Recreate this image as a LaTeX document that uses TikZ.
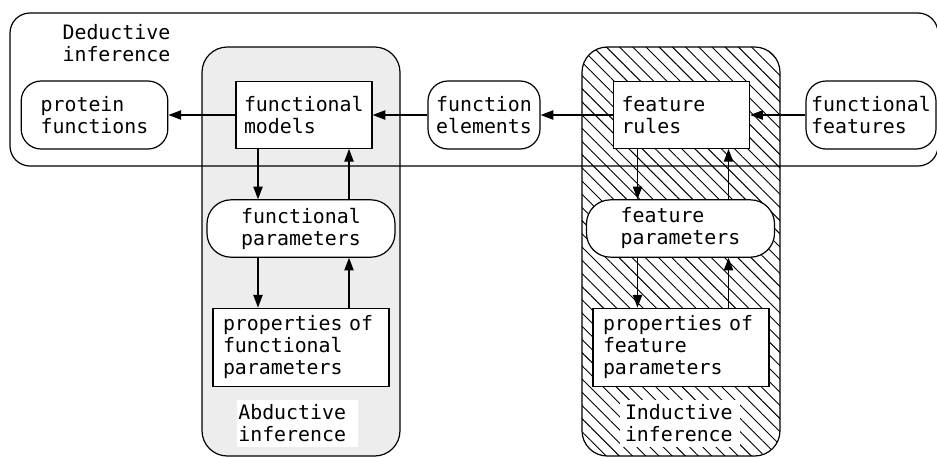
\documentclass[tikz,border=0pt]{standalone}
\usepackage{fontspec}
\newfontfamily\boxfont{DejaVu Sans Mono}
\usetikzlibrary{arrows.meta, patterns.meta}

\tikzset{
  txt/.style={font=\boxfont\fontsize{14.9pt}{16.5pt}\selectfont, align=left},
  rectbox/.style={txt, draw, fill=white, inner xsep=6pt, inner ysep=0pt},
  roundbox/.style={txt, draw, fill=white, rounded corners=15pt, inner sep=0pt},
  arr/.style={-{Triangle[length=9.5pt,width=7pt]}},
}

\begin{document}
\begin{tikzpicture}[x=0.75pt, y=-0.75pt, line width=0.9pt]
  \useasboundingbox (0,0) rectangle (937,457);
  % abductive and inductive regions
  \draw[fill=black!7, rounded corners=19pt] (202,47) rectangle (400,456);
  \draw[pattern={Lines[angle=-45,distance=7pt,line width=0.7pt]}, rounded corners=19pt]
    (582,47) rectangle (780,456);
  % deductive region, drawn over the other two
  \draw[rounded corners=15pt] (10,13) rectangle (938,166);
  \node[txt, anchor=north west, inner sep=0pt] (ded) at (62,24) {Deductive\\inference};

  % top row
  \node[roundbox, minimum width=110pt, minimum height=51pt] (protfn) at (94.5,115) {protein\\functions};
  \node[rectbox, text width=90pt, minimum height=50pt] (fmodels) at (304,115) {functional\\models};
  \node[roundbox, minimum width=84pt, minimum height=51pt] (felems) at (484,115) {function\\elements};
  \node[rectbox, text width=90pt, minimum height=50pt] (frules) at (681.5,115) {feature\\rules};
  \node[roundbox, minimum width=97.5pt, minimum height=51pt] (ffeats) at (871,115) {functional\\features};

  % abductive column
  \node[roundbox, minimum width=141pt, minimum height=43pt, rounded corners=18pt] (fparams) at (301,228.5) {functional\\parameters};
  \node[rectbox, text width=117pt, inner xsep=7.5pt, minimum height=59pt] (fprops) at (301,347.5) {properties of\\functional\\parameters};
  \node[txt, fill=white, text width=88.75pt, inner xsep=1pt, minimum height=35pt] (abd) at (297.5,423.5) {Abductive\\inference};

  % inductive column
  \node[roundbox, minimum width=141pt, minimum height=43pt, rounded corners=18pt] (rparams) at (680.5,228.5) {feature\\parameters};
  \node[rectbox, text width=117pt, inner xsep=7.5pt, minimum height=59pt] (rprops) at (681,347.5) {properties of\\feature\\parameters};
  \node[txt, fill=white, text width=82.5pt, inner xsep=3.75pt, minimum height=35pt] (ind) at (680,423.5) {Inductive\\inference};

  % horizontal flow
  \draw[arr] (fmodels) -- (protfn);
  \draw[arr] (felems) -- (fmodels);
  \draw[arr] (frules) -- (felems);
  \draw[arr] (ffeats) -- (frules);

  % down and up links
  \draw[arr] ([xshift=-32.25pt]fparams.north |- fmodels.south) -- ([xshift=-32.25pt]fparams.north);
  \draw[arr] ([xshift=36pt]fparams.north) -- ([xshift=36pt]fparams.north |- fmodels.south);
  \draw[arr] ([xshift=-32.25pt]fparams.south) -- ([xshift=-32.25pt]fparams.south |- fprops.north);
  \draw[arr] ([xshift=36pt]fparams.south |- fprops.north) -- ([xshift=36pt]fparams.south);

  \draw[arr] ([xshift=-32.25pt]rparams.north |- frules.south) -- ([xshift=-32.25pt]rparams.north);
  \draw[arr] ([xshift=36pt]rparams.north) -- ([xshift=36pt]rparams.north |- frules.south);
  \draw[arr] ([xshift=-32.25pt]rparams.south) -- ([xshift=-32.25pt]rparams.south |- rprops.north);
  \draw[arr] ([xshift=36pt]rparams.south |- rprops.north) -- ([xshift=36pt]rparams.south);
\end{tikzpicture}
\end{document}
